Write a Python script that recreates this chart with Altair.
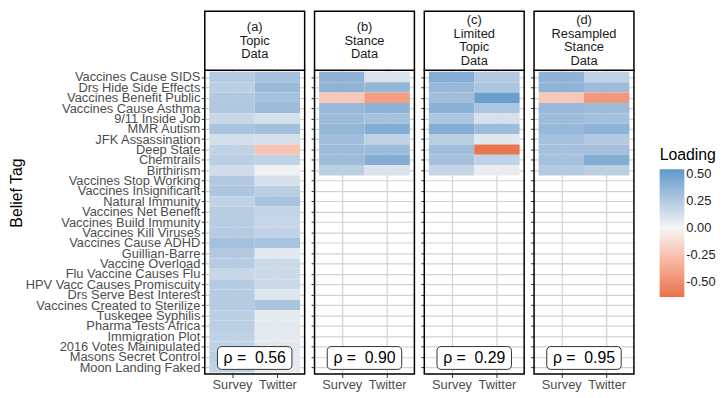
import json
import altair as alt
import pandas as pd

tags = [
    "Vaccines Cause SIDS", "Drs Hide Side Effects", "Vaccines Benefit Public",
    "Vaccines Cause Asthma", "9/11 Inside Job", "MMR Autism", "JFK Assassination",
    "Deep State", "Chemtrails", "Birthirism", "Vaccines Stop Working",
    "Vaccines Insignificant", "Natural Immunity", "Vaccines Net Benefit",
    "Vaccines Build Immunity", "Vaccines Kill Viruses", "Vaccines Cause ADHD",
    "Guillian-Barre", "Vaccine Overload", "Flu Vaccine Causes Flu",
    "HPV Vacc Causes Promiscuity", "Drs Serve Best Interest",
    "Vaccines Created to Sterilize", "Tuskegee Syphilis", "Pharma Tests Africa",
    "Immigration Plot", "2016 Votes Mainipulated", "Masons Secret Control",
    "Moon Landing Faked",
]
sources = ["Survey", "Twitter"]
panel_titles = [
    ["(a)", "Topic", "Data"],
    ["(b)", "Stance", "Data"],
    ["(c)", "Limited", "Topic", "Data"],
    ["(d)", "Resampled", "Stance", "Data"],
]
rho = [0.56, 0.90, 0.29, 0.95]

a_survey = [0.24, 0.22, 0.25, 0.26, 0.17, 0.28, 0.13, 0.20, 0.22, 0.14,
            0.25, 0.27, 0.20, 0.23, 0.23, 0.24, 0.30, 0.25, 0.24, 0.17,
            0.24, 0.24, 0.24, 0.22, 0.22, 0.20, 0.20, 0.22, 0.20]
a_twitter = [0.30, 0.34, 0.30, 0.33, 0.12, 0.31, 0.12, -0.24, 0.20, 0.02,
             0.12, 0.22, 0.29, 0.19, 0.17, 0.20, 0.29, 0.07, 0.16, 0.15,
             0.16, 0.09, 0.28, 0.06, 0.07, 0.06, 0.08, 0.06, 0.06]
b_survey = [0.38, 0.38, -0.22, 0.35, 0.33, 0.36, 0.32, 0.33, 0.33, 0.22]
b_twitter = [0.10, 0.36, -0.42, 0.38, 0.30, 0.42, 0.20, 0.33, 0.42, 0.10]
c_survey = [0.42, 0.35, 0.32, 0.40, 0.27, 0.42, 0.22, 0.32, 0.30, 0.18]
c_twitter = [0.25, 0.27, 0.50, 0.27, 0.12, 0.33, 0.08, -0.62, 0.20, 0.05]
d_survey = [0.38, 0.38, -0.22, 0.35, 0.33, 0.35, 0.30, 0.30, 0.30, 0.25]
d_twitter = [0.20, 0.33, -0.45, 0.33, 0.30, 0.38, 0.25, 0.30, 0.42, 0.22]

panels = [(a_survey, a_twitter), (b_survey, b_twitter),
          (c_survey, c_twitter), (d_survey, d_twitter)]

FONT = "Liberation Sans"
X_DOMAIN = [-0.6, 1.6]
Y_DOMAIN = [-6.35, 28.65]
HEADER_BOTTOM = -0.65
PW, PH = 101, 367
ROW_PX = PH / (Y_DOMAIN[1] - Y_DOMAIN[0])
LINE_UNITS = 13.8 / ROW_PX

label_expr = json.dumps(tags) + "[datum.value]"
x_label_expr = json.dumps(sources) + "[datum.value]"
legend_label_expr = ("datum.value < 0 ? '-' + format(-datum.value, '.2f') "
                     ": format(datum.value, '.2f')")

color_scale = alt.Scale(domain=[-0.636, 0, 0.54],
                        range=["#e8704c", "#f5f5f5", "#5f99c9"],
                        interpolate="lab")


def make_panel(i):
    s_vals, t_vals = panels[i]
    rows = []
    for xi, vals in enumerate([s_vals, t_vals]):
        for yi, v in enumerate(vals):
            rows.append({"tag": tags[yi], "source": sources[xi],
                         "xi": xi, "yi": yi, "value": v})
    df = pd.DataFrame(rows)
    first = i == 0

    xs = alt.Scale(domain=X_DOMAIN, nice=False, zero=False)
    ys = alt.Scale(domain=Y_DOMAIN, nice=False, zero=False, reverse=True)

    x_axis = alt.Axis(values=[0, 1], labelExpr=x_label_expr, title=None,
                      grid=True, domain=False, ticks=True, labelFlush=False,
                      labelOverlap=False)
    if first:
        y_axis = alt.Axis(values=list(range(len(tags))), labelExpr=label_expr,
                          title="Belief Tag", grid=True, domain=False,
                          labelFlush=False, labelOverlap=False)
        legend = alt.Legend(title="Loading", orient="none", legendX=460,
                            legendY=138, values=[0.5, 0.25, 0, -0.25, -0.5],
                            labelExpr=legend_label_expr, gradientLength=129,
                            gradientThickness=25, direction="vertical")
    else:
        y_axis = alt.Axis(values=list(range(len(tags))), labels=False,
                          title=None, grid=True, domain=False)
        legend = None

    def XD(v):
        return alt.XDatum(v, axis=x_axis, scale=xs)

    def YD(v):
        return alt.YDatum(v, axis=y_axis, scale=ys)

    tiles = alt.Chart(df).transform_calculate(
        x0="datum.xi - 0.5", x1="datum.xi + 0.5",
        y0="datum.yi - 0.5", y1="datum.yi + 0.5",
    ).mark_rect(strokeWidth=0).encode(
        x=alt.X("x0:Q", scale=xs, axis=x_axis),
        x2="x1:Q",
        y=alt.Y("y0:Q", scale=ys, axis=y_axis),
        y2="y1:Q",
        color=alt.Color("value:Q", scale=color_scale, legend=legend),
    )

    ann = pd.DataFrame({"rho": ["ρ = \u00a0" + f"{rho[i]:.2f}"]})
    base = alt.Chart(ann)

    lines = panel_titles[i]
    n = len(lines)
    hc = (Y_DOMAIN[0] + HEADER_BOTTOM) / 2
    title_df = pd.DataFrame({"line": lines, "k": list(range(n))})

    border = base.mark_rect(fill="white", fillOpacity=0, stroke="black",
                            strokeWidth=1.5).encode(
        x=XD(X_DOMAIN[0]), x2=alt.datum(X_DOMAIN[1]),
        y=YD(HEADER_BOTTOM), y2=alt.datum(Y_DOMAIN[1]))
    header = base.mark_rect(fill="white", stroke="black",
                            strokeWidth=1.5).encode(
        x=XD(X_DOMAIN[0]), x2=alt.datum(X_DOMAIN[1]),
        y=YD(Y_DOMAIN[0]), y2=alt.datum(HEADER_BOTTOM))
    header_text = alt.Chart(title_df).transform_calculate(
        ty=f"{hc} + (datum.k - {(n - 1) / 2}) * {LINE_UNITS}"
    ).mark_text(font=FONT, fontSize=13, color="#1a1a1a",
                baseline="middle", align="center").encode(
        x=XD(0.5), y=alt.Y("ty:Q", axis=y_axis, scale=ys), text="line:N")
    rho_box = base.mark_rect(fill="white", stroke="#333333", strokeWidth=1,
                             cornerRadius=4).encode(
        x=XD(-0.32), x2=alt.datum(1.32),
        y=YD(26.0), y2=alt.datum(28.2))
    rho_text = base.mark_text(font=FONT, fontSize=16, color="black",
                              baseline="middle", align="center").encode(
        x=XD(0.5), y=YD(27.1), text="rho:N")

    return alt.layer(tiles, border, header, header_text, rho_box,
                     rho_text).properties(width=PW, height=PH)


chart = alt.hconcat(*[make_panel(i) for i in range(4)], spacing=10,
                    bounds="flush").properties(
    padding={"left": 0, "top": 0, "right": 0, "bottom": 0}
).configure_view(stroke=None).configure_axis(
    labelFont=FONT, titleFont=FONT, labelFontSize=13, labelColor="#4d4d4d",
    titleFontSize=16, titleFontWeight="normal", titleColor="black",
    tickColor="#333333", tickSize=3.5, tickWidth=1, labelPadding=1.5,
    titlePadding=1, gridColor="#d2d2d2", gridWidth=1.2,
).configure_legend(
    titleFont=FONT, labelFont=FONT, titleFontSize=16, titleFontWeight="normal",
    titleColor="black", labelFontSize=13, labelColor="#222222",
    titlePadding=6, labelOffset=9,
)

chart.save("out.html", embed_options={"renderer": "svg", "actions": False})
